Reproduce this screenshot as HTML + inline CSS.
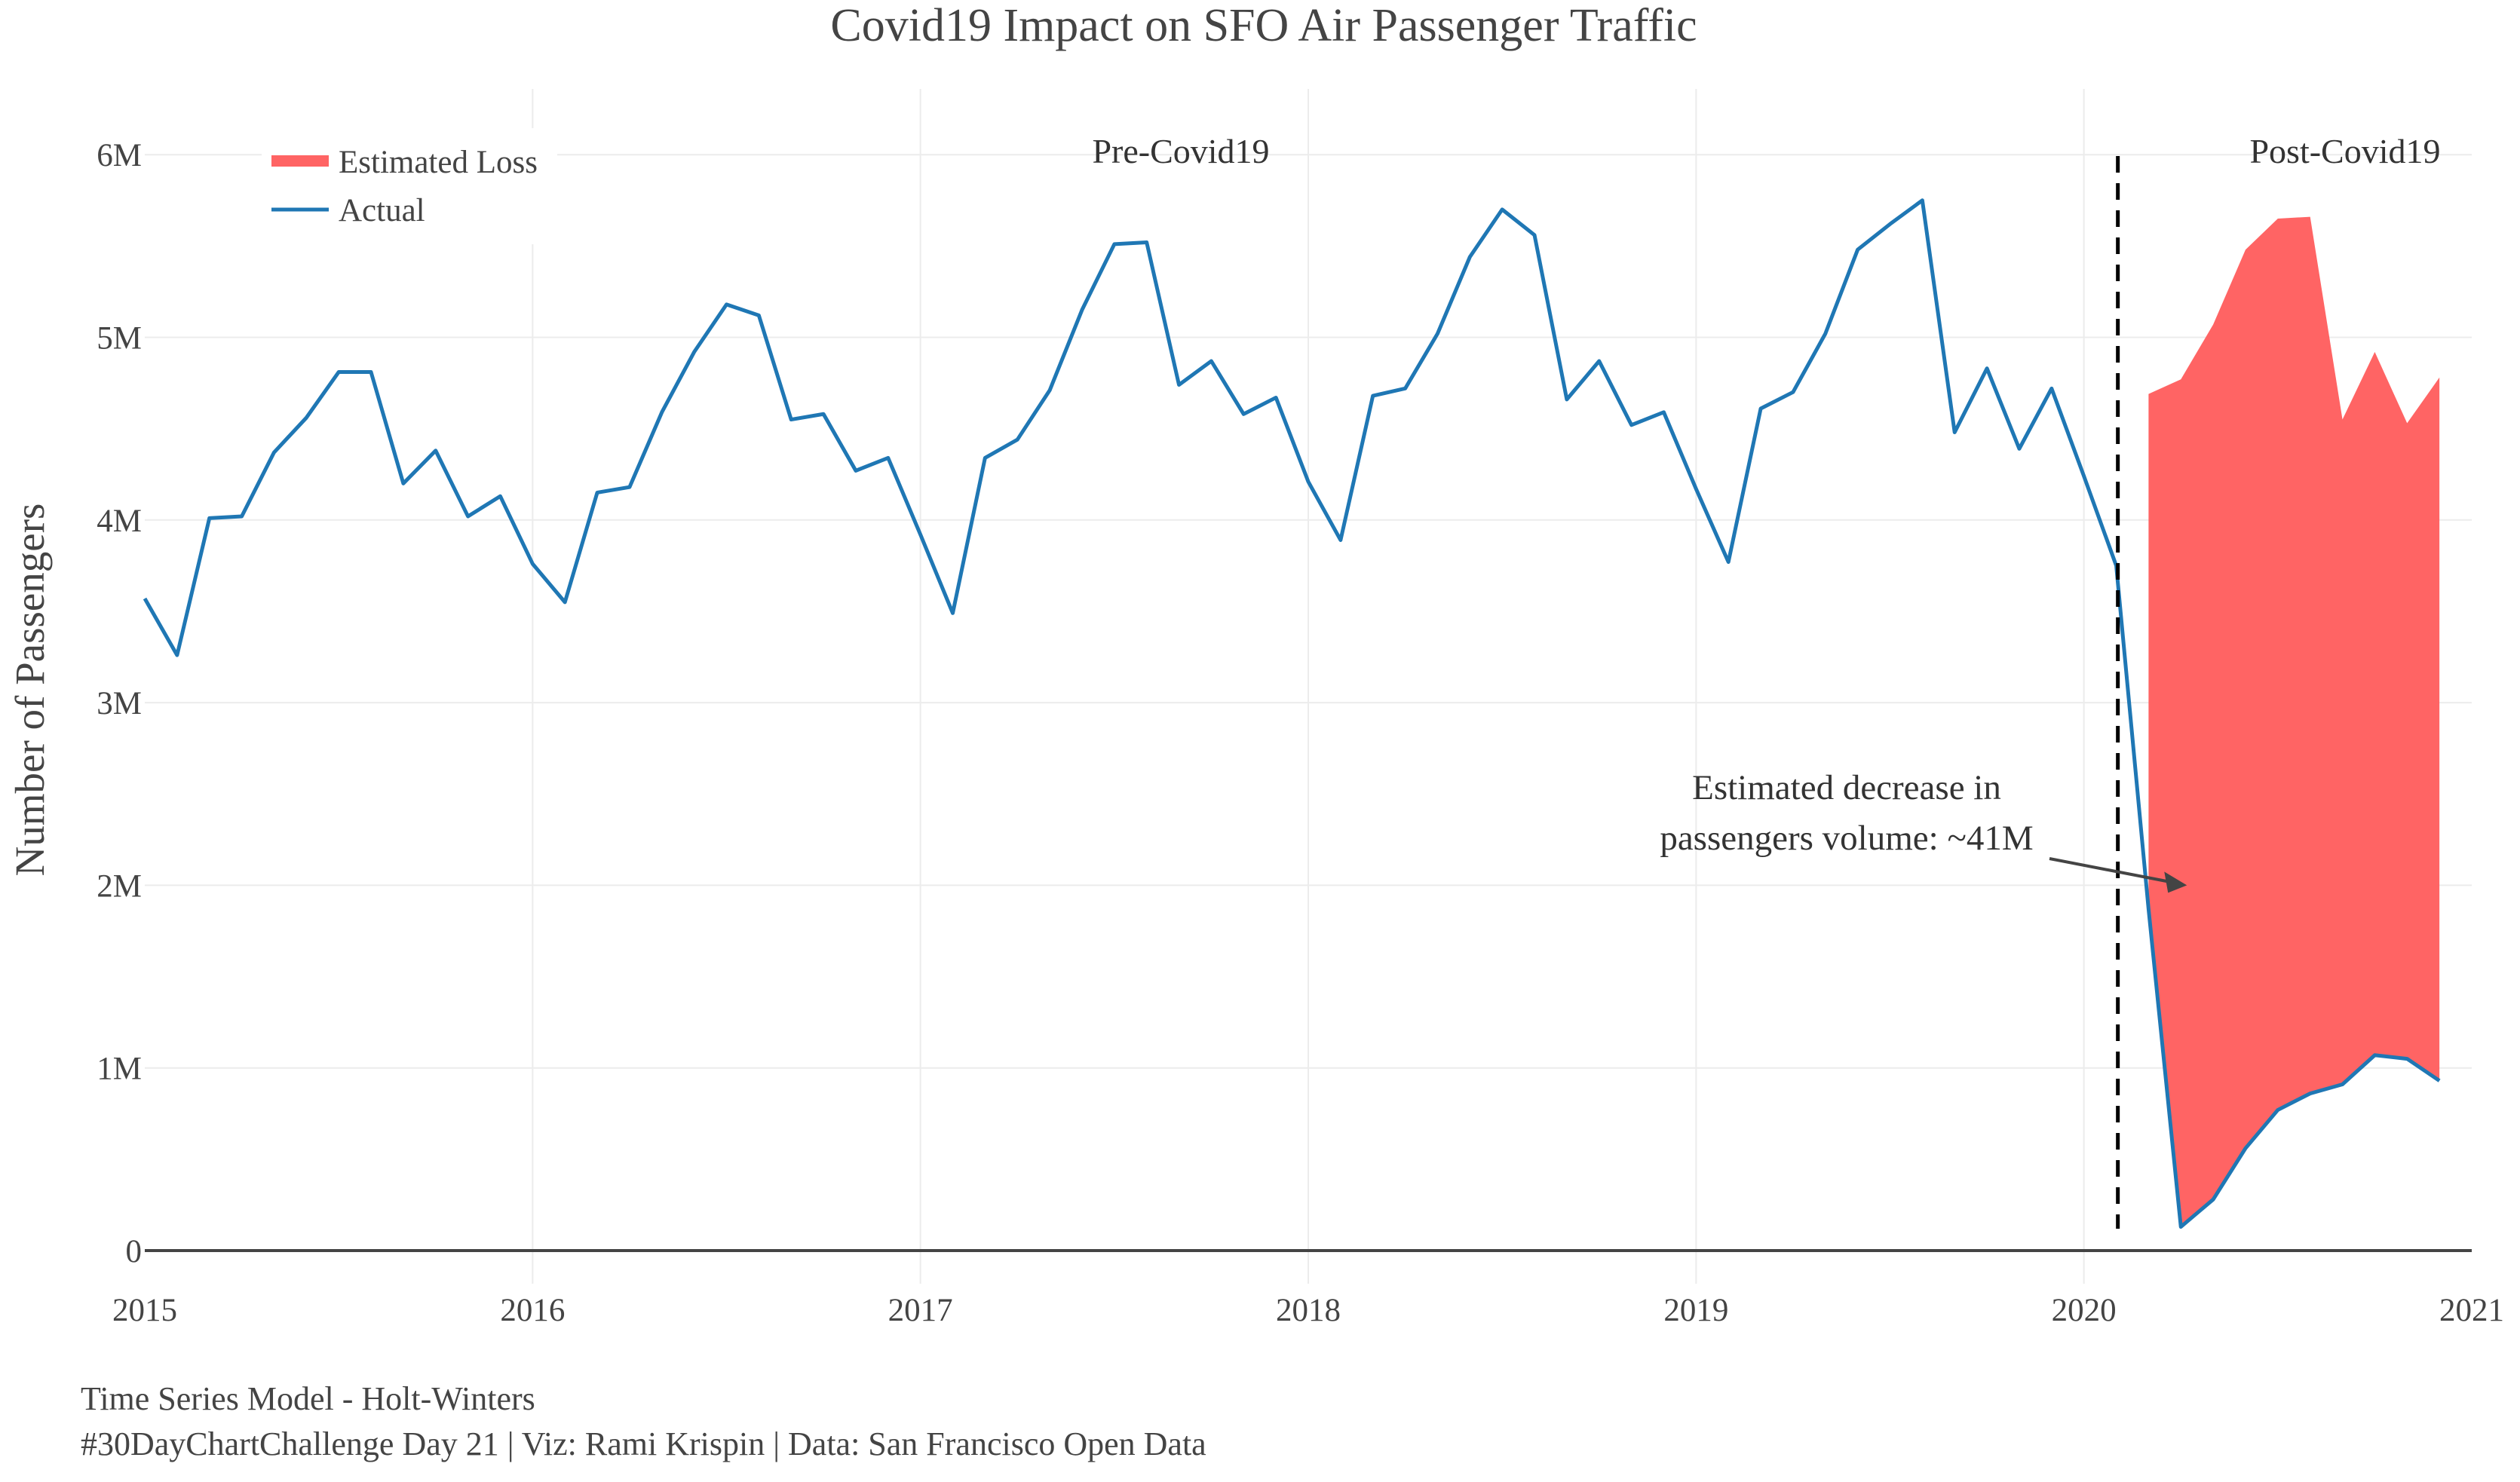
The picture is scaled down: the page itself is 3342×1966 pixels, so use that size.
<!DOCTYPE html>
<html><head><meta charset="utf-8"><style>
html,body{margin:0;padding:0;background:#fff;}
svg{display:block;font-family:"Liberation Serif",serif;}
</style></head><body>
<svg id="chart" width="3342" height="1966" viewBox="0 0 3342 1966">
<g id="grid"></g>
<g id="series"></g>
<g id="axes"></g>
<text x="1676" y="54" font-size="62" fill="#444" text-anchor="middle">Covid19 Impact on SFO Air Passenger Traffic</text>
<text transform="translate(58,915) rotate(-90)" font-size="55" fill="#444" text-anchor="middle">Number of Passengers</text>
<text x="1566" y="216" font-size="46" fill="#333" text-anchor="middle">Pre-Covid19</text>
<text x="3110" y="216" font-size="46" fill="#333" text-anchor="middle">Post-Covid19</text>
<text x="2449" y="1060" font-size="47" fill="#333" text-anchor="middle">Estimated decrease in</text>
<text x="2449" y="1127" font-size="47" fill="#333" text-anchor="middle">passengers volume: ~41M</text>
<g>
<rect x="347" y="170" width="392" height="154" fill="#fff"/>
<rect x="360" y="206" width="76" height="15" fill="#ff6464"/>
<text x="449" y="229" font-size="43" fill="#444">Estimated Loss</text>
<line x1="360" y1="278" x2="436" y2="278" stroke="#1f77b4" stroke-width="5"/>
<text x="449" y="293" font-size="43" fill="#444">Actual</text>
</g>
<text x="107" y="1870" font-size="44" fill="#444">Time Series Model - Holt-Winters</text>
<text x="107" y="1930" font-size="44" fill="#444">#30DayChartChallenge Day 21 | Viz: Rami Krispin | Data: San Francisco Open Data</text>
</svg>
<script>
const actual = [3.57,3.26,4.01,4.02,4.37,4.56,4.81,4.81,4.20,4.38,4.02,4.13,
3.76,3.55,4.15,4.18,4.59,4.92,5.18,5.12,4.55,4.58,4.27,4.34,
3.92,3.49,4.34,4.44,4.71,5.15,5.51,5.52,4.74,4.87,4.58,4.67,
4.21,3.89,4.68,4.72,5.02,5.44,5.70,5.56,4.66,4.87,4.52,4.59,
4.17,3.77,4.61,4.70,5.02,5.48,5.62,5.75,4.48,4.83,4.39,4.72,
4.24,3.75,1.87,0.13,0.28,0.56,0.77,0.86,0.91,1.07,1.05,0.93];
const forecast = [4.69,4.77,5.07,5.48,5.65,5.66,4.55,4.92,4.53,4.78];
const forecastStart = 62;
const yTicks = [0,1,2,3,4,5,6];
const yTickLabels = ["0","1M","2M","3M","4M","5M","6M"];
const xYears = [2015,2016,2017,2018,2019,2020,2021];
const covidMonth = 61.05;
const annotationMonth = 63;
const annotationValue = 2.0;

const NS="http://www.w3.org/2000/svg";
const X0=192, X1=3278, Y0=1659, YPM=242.3;
const xm = m => X0 + (X1-X0)*m/72;
const xy = yr => xm((yr-2015)*12);
const yv = v => Y0 - v*YPM;
function mk(parent,tag,attrs){const e=document.createElementNS(NS,tag);for(const k in attrs)e.setAttribute(k,attrs[k]);parent.appendChild(e);return e;}
const grid=document.getElementById('grid'), series=document.getElementById('series'), axes=document.getElementById('axes');

yTicks.forEach((t,i)=>{
  if(t>0){const l=mk(grid,'line',{x1:X0,x2:X1,y1:yv(t),y2:yv(t),stroke:'#ececec','stroke-width':2});
  
  }
  const tx=mk(axes,'text',{x:188,y:yv(t)+15,'font-size':43,fill:'#444','text-anchor':'end'});
  tx.textContent=yTickLabels[i];
  
  
});
xYears.forEach(yr=>{
  if(yr>2015&&yr<2021){const l=mk(grid,'line',{x1:xy(yr),x2:xy(yr),y1:118,y2:1703,stroke:'#ececec','stroke-width':2});
  
  }
  const tx=mk(axes,'text',{x:xy(yr),y:1752,'font-size':43,fill:'#444','text-anchor':'middle'});
  tx.textContent=String(yr);
  
  
});
const zl=mk(axes,'line',{x1:X0,x2:X1,y1:Y0,y2:Y0,stroke:'#444','stroke-width':4});



let pts=[];
forecast.forEach((v,i)=>pts.push(xm(forecastStart+i)+','+yv(v)));
for(let i=forecast.length-1;i>=0;i--)pts.push(xm(forecastStart+i)+','+yv(actual[forecastStart+i]));
const area=mk(series,'polygon',{points:pts.join(' '),fill:'#ff6464'});



const line=mk(series,'polyline',{points:actual.map((v,i)=>xm(i)+','+yv(v)).join(' '),fill:'none',stroke:'#1f77b4','stroke-width':5,'stroke-linejoin':'round'});



const dl=mk(series,'line',{x1:xm(covidMonth),x2:xm(covidMonth),y1:207,y2:1630,stroke:'#000','stroke-width':5,'stroke-dasharray':'22,14'});



const ax=xm(annotationMonth)+8, ay=yv(annotationValue);
const ar=mk(series,'line',{x1:2718,y1:1139,x2:ax-20,y2:ay-4,stroke:'#444','stroke-width':4});


const ah=mk(series,'polygon',{points:`${ax},${ay} ${ax-30},${ay-18} ${ax-25},${ay+10}`,fill:'#444'});


</script>
</body></html>
